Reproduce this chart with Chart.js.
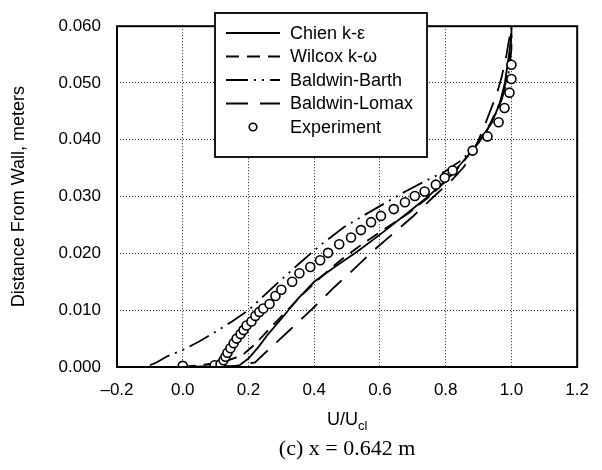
<!DOCTYPE html>
<html>
<head>
<meta charset="utf-8">
<script src="https://cdn.jsdelivr.net/npm/chart.js@4.4.1/dist/chart.umd.min.js"></script>
<style>
  html, body { margin: 0; padding: 0; background: #fff; }
</style>
</head>
<body>
<canvas id="chart" width="602" height="470"></canvas>
<script>
// axis ticks
const xTicks = [-0.2, 0.0, 0.2, 0.4, 0.6, 0.8, 1.0, 1.2];
const yTicks = [0.000, 0.010, 0.020, 0.030, 0.040, 0.050, 0.060];

// Chien k-eps (solid)
const chienU = [0, 0.17, 0.20, 0.23, 0.26, 0.30, 0.35, 0.40, 0.46, 0.53, 0.60, 0.67, 0.74, 0.80, 0.85, 0.90, 0.94, 0.965, 0.98, 0.99, 1.0, 1.0];
const chienY = [0, 0.0002, 0.0015, 0.0035, 0.0058, 0.0085, 0.0120, 0.0150, 0.0175, 0.0203, 0.0233, 0.0265, 0.0297, 0.0328, 0.0360, 0.0395, 0.0430, 0.0465, 0.0500, 0.0540, 0.0580, 0.0600];

// Wilcox k-omega (dashed)
const wilcoxU = [0, 0.05, 0.12, 0.18, 0.22, 0.26, 0.31, 0.36, 0.42, 0.48, 0.55, 0.62, 0.69, 0.75, 0.80, 0.85, 0.895, 0.935, 0.965, 0.985, 0.995, 1.0];
const wilcoxY = [0, 0.0003, 0.0008, 0.0020, 0.0040, 0.0065, 0.0095, 0.0125, 0.0158, 0.0188, 0.0218, 0.0245, 0.0272, 0.0300, 0.0327, 0.0358, 0.0393, 0.0428, 0.0465, 0.0505, 0.0545, 0.0600];

// Baldwin-Barth (dash-dot)
const barthU = [-0.10, -0.08, -0.05, 0.00, 0.05, 0.10, 0.15, 0.20, 0.27, 0.35, 0.42, 0.49, 0.56, 0.62, 0.68, 0.74, 0.80, 0.85, 0.90, 0.94, 0.97, 0.99, 1.0, 1.0];
const barthY = [0.0003, 0.0008, 0.0018, 0.0030, 0.0045, 0.0062, 0.0080, 0.0100, 0.0138, 0.0180, 0.0215, 0.0246, 0.0270, 0.0290, 0.0310, 0.0328, 0.0345, 0.0365, 0.0395, 0.0430, 0.0470, 0.0510, 0.0560, 0.0600];

// Baldwin-Lomax (long dash)
const lomaxU = [0, 0.15, 0.22, 0.26, 0.32, 0.39, 0.46, 0.52, 0.58, 0.64, 0.70, 0.76, 0.82, 0.855, 0.88, 0.90, 0.915, 0.935, 0.955, 0.97, 0.985, 1.0];
const lomaxY = [0, 0.0001, 0.0008, 0.0030, 0.0062, 0.0100, 0.0140, 0.0172, 0.0205, 0.0235, 0.0265, 0.0298, 0.0330, 0.0352, 0.0375, 0.0400, 0.0420, 0.0450, 0.0480, 0.0510, 0.0550, 0.0600];

// Experiment (circles)
const expU = [0.0, 0.097, 0.115, 0.124, 0.130, 0.136, 0.145, 0.155, 0.164, 0.176, 0.185, 0.194, 0.209, 0.221, 0.233, 0.245, 0.264, 0.282, 0.300, 0.333, 0.355, 0.388, 0.418, 0.442, 0.476, 0.512, 0.542, 0.573, 0.603, 0.642, 0.676, 0.706, 0.736, 0.770, 0.797, 0.821, 0.882, 0.927, 0.961, 0.979, 0.994, 1.000, 1.000];
const expY = [0.0002, 0.0003, 0.0005, 0.0012, 0.0018, 0.0025, 0.0033, 0.0042, 0.0050, 0.0058, 0.0065, 0.0073, 0.0080, 0.0090, 0.0097, 0.0103, 0.0111, 0.0125, 0.0136, 0.0150, 0.0165, 0.0176, 0.0188, 0.0201, 0.0216, 0.0228, 0.0241, 0.0255, 0.0266, 0.0278, 0.0290, 0.0301, 0.0309, 0.0321, 0.0333, 0.0346, 0.0381, 0.0406, 0.0431, 0.0456, 0.0483, 0.0507, 0.0532];

const pts = (u, y) => u.map((v, i) => ({x: v, y: y[i]}));

function lineSet(label, u, y, dash) {
  return {
    label, data: pts(u, y), showLine: true, pointRadius: 0,
    borderColor: '#000', borderWidth: 1.8, borderDash: dash, fill: false
  };
}

const SANS = "'Liberation Sans', Arial, sans-serif";
Chart.defaults.font.family = SANS;
Chart.defaults.font.size = 17;
Chart.defaults.color = '#000';

const decor = {
  id: 'decor',
  afterDraw(chart) {
    const {ctx, chartArea: a} = chart;
    ctx.save();
    // frame
    ctx.setLineDash([]);
    ctx.strokeStyle = '#000';
    ctx.lineWidth = 2;
    ctx.strokeRect(a.left, a.top, a.right - a.left, a.bottom - a.top);

    // legend box
    const lx = 215, ly = 13, lw = 212, lh = 144;
    ctx.fillStyle = '#fff';
    ctx.fillRect(lx, ly, lw, lh);
    ctx.lineWidth = 1.8;
    ctx.strokeRect(lx, ly, lw, lh);
    const order = [1, 2, 3, 4, 0];
    ctx.font = '18px ' + SANS;
    ctx.textBaseline = 'middle';
    ctx.textAlign = 'left';
    order.forEach((di, i) => {
      const ds = chart.data.datasets[di];
      const y = ly + 20 + i * 23.5;
      ctx.strokeStyle = '#000';
      if (ds.showLine) {
        ctx.lineWidth = 1.8;
        ctx.setLineDash(ds.borderDash || []);
        ctx.beginPath();
        ctx.moveTo(226, y);
        ctx.lineTo(280, y);
        ctx.stroke();
      } else {
        ctx.setLineDash([]);
        ctx.lineWidth = 1.6;
        ctx.beginPath();
        ctx.arc(253, y, 3.8, 0, Math.PI * 2);
        ctx.fillStyle = '#fff';
        ctx.fill();
        ctx.stroke();
      }
      ctx.fillStyle = '#000';
      ctx.fillText(ds.label, 290, y + 1);
    });

    // y title
    ctx.save();
    ctx.font = '18px ' + SANS;
    ctx.translate(19, (a.top + a.bottom) / 2);
    ctx.rotate(-Math.PI / 2);
    ctx.textAlign = 'center';
    ctx.fillText('Distance From Wall, meters', 0, 0);
    ctx.restore();

    // x title U/U_cl
    const cx = (a.left + a.right) / 2;
    ctx.textBaseline = 'alphabetic';
    ctx.font = '13px ' + SANS;
    const subW = ctx.measureText('cl').width;
    ctx.font = '18px ' + SANS;
    const mainW = ctx.measureText('U/U').width;
    const sx = cx - (mainW + subW) / 2;
    ctx.textAlign = 'left';
    ctx.fillText('U/U', sx, 425);
    ctx.font = '13px ' + SANS;
    ctx.fillText('cl', sx + mainW, 430);

    // caption
    ctx.font = "22px 'Liberation Serif', 'Times New Roman', serif";
    ctx.textAlign = 'center';
    ctx.fillText('(c) x = 0.642 m', cx, 455);
    ctx.restore();
  }
};

new Chart(document.getElementById('chart'), {
  type: 'scatter',
  data: {
    datasets: [
      {
        label: 'Experiment', data: pts(expU, expY), showLine: false,
        pointStyle: 'circle', pointRadius: 4.5, borderWidth: 1.6,
        borderColor: '#000', backgroundColor: '#fff', order: -1
      },
      lineSet('Chien k-\u03b5', chienU, chienY, []),
      lineSet('Wilcox k-\u03c9', wilcoxU, wilcoxY, [13, 8]),
      lineSet('Baldwin-Barth', barthU, barthY, [22, 6, 2, 6, 2, 6]),
      lineSet('Baldwin-Lomax', lomaxU, lomaxY, [22, 12])
    ]
  },
  options: {
    responsive: false,
    animation: false,
    layout: {padding: {left: 0, right: 22, top: 6, bottom: 0}},
    plugins: {legend: {display: false}, tooltip: {enabled: false}},
    scales: {
      x: {
        type: 'linear', min: -0.2, max: 1.2,
        afterBuildTicks: s => { s.ticks = xTicks.map(v => ({value: v})); },
        afterFit: s => { s.height = 103; },
        ticks: {
          padding: 13, maxRotation: 0, autoSkip: false,
          callback: v => (v < 0 ? '\u2013' : '') + Math.abs(v).toFixed(1)
        },
        grid: {color: '#222', lineWidth: 1, drawTicks: false},
        border: {display: false, dash: [1, 2]}
      },
      y: {
        type: 'linear', min: 0, max: 0.06,
        afterBuildTicks: s => { s.ticks = yTicks.map(v => ({value: v})); },
        afterFit: s => { s.width = 117; },
        ticks: {padding: 16, autoSkip: false, callback: v => v.toFixed(3)},
        grid: {color: '#222', lineWidth: 1, drawTicks: false},
        border: {display: false, dash: [1, 2]}
      }
    }
  },
  plugins: [decor]
});
</script>
</body>
</html>
